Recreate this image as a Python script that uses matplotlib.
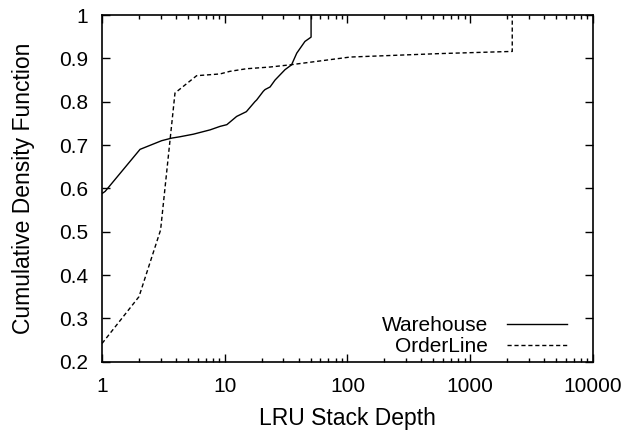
import matplotlib
matplotlib.use("Agg")
import matplotlib.pyplot as plt
import matplotlib.ticker as ticker

plt.rcParams['font.family'] = ['Liberation Sans', 'DejaVu Sans']

# LRU stack depth CDF curves
warehouse_depth = [1, 1.06, 2.04, 3.06, 3.7, 4.3, 5.55, 7.6, 9.15, 10.4, 12.5, 15,
                   17.6, 18.2, 20.6, 21.3, 23.4, 25.7, 31, 35, 38.6, 45, 50.5, 50.5]
warehouse_cdf = [0.588, 0.593, 0.69, 0.71, 0.716, 0.719, 0.725, 0.735, 0.743, 0.747, 0.766, 0.777,
                 0.80, 0.804, 0.824, 0.828, 0.834, 0.85, 0.874, 0.885, 0.912, 0.939, 0.949, 1.0]

orderline_depth = [1, 2, 3, 3.93, 5.9, 9.15, 11, 15, 23.4, 34, 105, 567, 2200, 2200]
orderline_cdf = [0.242, 0.35, 0.504, 0.82, 0.86, 0.864, 0.87, 0.876, 0.880, 0.885, 0.903, 0.911, 0.916, 1.0]

x_ticks = [1, 10, 100, 1000, 10000]
y_ticks = [0.2, 0.3, 0.4, 0.5, 0.6, 0.7, 0.8, 0.9, 1.0]
y_labels = ['0.2', '0.3', '0.4', '0.5', '0.6', '0.7', '0.8', '0.9', '1']

fig = plt.figure(figsize=(6.31, 4.34), dpi=100)
ax = fig.add_axes([0.1617, 0.1666, 0.778, 0.7988])

ax.plot(warehouse_depth, warehouse_cdf, color='black', lw=1.0, label='Warehouse')
ax.plot(orderline_depth, orderline_cdf, color='black', lw=1.0, dashes=(3, 2), label='OrderLine')

ax.set_xscale('log')
ax.set_xlim(1, 10000)
ax.set_ylim(0.2, 1.0)
ax.set_xticks(x_ticks)
ax.xaxis.set_major_formatter(ticker.FuncFormatter(lambda v, p: '%d' % v))
ax.xaxis.set_minor_locator(ticker.LogLocator(base=10, subs=range(2, 10)))
ax.xaxis.set_minor_formatter(ticker.NullFormatter())
ax.set_yticks(y_ticks)
ax.set_yticklabels(y_labels)

ax.tick_params(which='both', direction='in', top=True, right=True, labelsize=15, width=1.0)
ax.tick_params(which='major', length=6)
ax.tick_params(axis='x', which='major', pad=11)
ax.tick_params(axis='y', which='major', pad=10)
ax.tick_params(which='minor', length=3)
for s in ax.spines.values():
    s.set_linewidth(1.2)

ax.set_xlabel('LRU Stack Depth', fontsize=16.5, labelpad=8)
ax.set_ylabel('Cumulative Density Function', fontsize=16.5, labelpad=17)

ax.legend(loc='lower right', bbox_to_anchor=(567 / 631, 1 - 356 / 434),
          bbox_transform=fig.transFigure, frameon=False, fontsize=15,
          markerfirst=False, handlelength=2.9, handletextpad=0.9, labelspacing=0.1,
          borderaxespad=0, borderpad=0)

fig.savefig('out.png', dpi=100)
